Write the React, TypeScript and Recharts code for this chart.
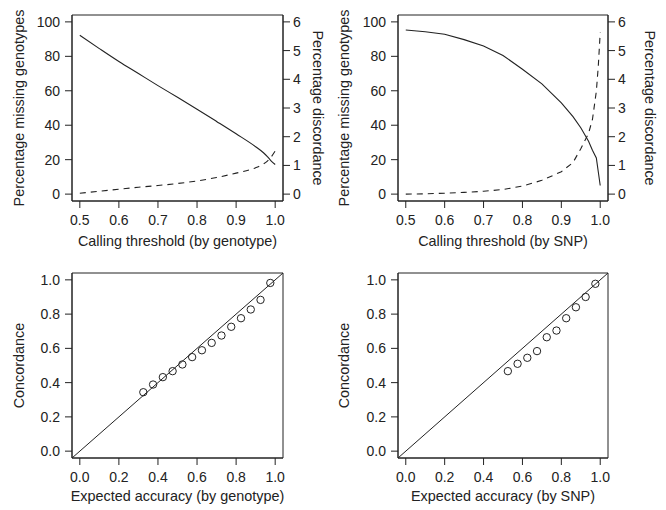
import React from 'react';
import {
  ComposedChart,
  Line,
  Scatter,
  XAxis,
  YAxis,
  ReferenceArea,
  ReferenceLine,
} from 'recharts';

// --- data ---
const genoThreshold = [0.5, 0.55, 0.6, 0.65, 0.7, 0.75, 0.8, 0.85, 0.9, 0.95, 0.97, 0.98, 0.99, 1.0];
const genoMissing = [92.2, 84.5, 77, 70, 63, 56.2, 49.3, 42.2, 35, 27.5, 24, 21.8, 19.2, 17.2];
const genoDiscord = [0.03, 0.1, 0.17, 0.24, 0.3, 0.37, 0.46, 0.58, 0.73, 0.92, 1.05, 1.15, 1.3, 1.5];

const snpThreshold = [0.5, 0.55, 0.6, 0.65, 0.7, 0.75, 0.8, 0.85, 0.9, 0.93, 0.95, 0.97, 0.98, 0.99, 0.995, 1.0];
const snpMissing = [95.3, 94.3, 92.8, 89.7, 86, 80.5, 72.5, 64, 53, 45, 38.5, 30.7, 25.5, 21, 13, 5];
const snpDiscord = [0, 0.01, 0.03, 0.06, 0.1, 0.16, 0.28, 0.48, 0.78, 1.1, 1.58, 2.12, 2.6, 3.58, 4.45, 5.63];

const genoExpected = [0.325, 0.375, 0.425, 0.475, 0.525, 0.575, 0.625, 0.675, 0.725, 0.775, 0.825, 0.875, 0.925, 0.975];
const genoConcord = [0.344, 0.389, 0.432, 0.467, 0.506, 0.549, 0.589, 0.632, 0.675, 0.726, 0.776, 0.827, 0.883, 0.982];

const snpExpected = [0.525, 0.575, 0.625, 0.675, 0.725, 0.775, 0.825, 0.875, 0.925, 0.975];
const snpConcord = [0.467, 0.51, 0.545, 0.584, 0.665, 0.704, 0.776, 0.84, 0.9, 0.977];

const thresholdTicks = [0.5, 0.6, 0.7, 0.8, 0.9, 1.0];
const missingTicks = [0, 20, 40, 60, 80, 100];
const discordTicks = [0, 1, 2, 3, 4, 5, 6];
const unitTicks = [0, 0.2, 0.4, 0.6, 0.8, 1.0];

const thresholdDomain = [0.48, 1.02];
const missingDomain = [-4, 104];
const discordDomain = [-0.24, 6.24];
const unitDomain = [-0.04, 1.04];

const INK = '#222';
const FONT = '"Liberation Sans", Arial, Helvetica, sans-serif';
const TITLE_SIZE = 14.4;

const tickStyle = { fontSize: 14, fill: INK, fontFamily: FONT };

const fmt1 = (v: number) => v.toFixed(1);

// rotated axis title drawn in the axis' own box
const sideTitle = (text: string, dx: number, angle: number) => (props: any) => {
  const vb = props.viewBox || {};
  const cx = vb.x + dx;
  const cy = vb.y + vb.height / 2;
  return (
    <text
      x={cx}
      y={cy}
      transform={`rotate(${angle} ${cx} ${cy})`}
      textAnchor="middle"
      dominantBaseline="central"
      fontSize={TITLE_SIZE}
      fill={INK}
      fontFamily={FONT}
    >
      {text}
    </text>
  );
};

const bottomTitle = (text: string, baseline: number) => (props: any) => {
  const vb = props.viewBox || {};
  return (
    <text
      x={vb.x + vb.width / 2}
      y={vb.y + baseline}
      textAnchor="middle"
      fontSize={TITLE_SIZE}
      fill={INK}
      fontFamily={FONT}
    >
      {text}
    </text>
  );
};

const ring = (props: any) => (
  <circle cx={props.cx} cy={props.cy} r={3.7} fill="none" stroke={INK} strokeWidth={1} />
);

interface ThresholdPanelProps {
  xs: number[];
  missing: number[];
  discord: number[];
  xTitle: string;
  leftW: number;
  rightW: number;
  leftTitleX: number;
  rightTitleX: number;
  curve: 'linear' | 'monotone';
}

function ThresholdPanel({ xs, missing, discord, xTitle, leftW, rightW, leftTitleX, rightTitleX, curve }: ThresholdPanelProps) {
  const rows = xs.map((x, i) => ({ x, missing: missing[i], discord: discord[i] }));
  return (
    <ComposedChart width={333} height={255} data={rows} margin={{ top: 15, right: 0, bottom: 0, left: 0 }}>
      <XAxis
        dataKey="x"
        type="number"
        domain={thresholdDomain}
        allowDataOverflow
        ticks={thresholdTicks}
        tickFormatter={fmt1}
        height={54}
        tick={tickStyle}
        tickSize={7}
        tickMargin={7}
        tickLine={{ stroke: INK }}
        axisLine={{ stroke: INK }}
        label={bottomTitle(xTitle, 45)}
      />
      <YAxis
        yAxisId="left"
        type="number"
        domain={missingDomain}
        allowDataOverflow
        ticks={missingTicks}
        width={leftW}
        tick={tickStyle}
        tickSize={7}
        tickMargin={5}
        tickLine={{ stroke: INK }}
        axisLine={{ stroke: INK }}
        label={sideTitle('Percentage missing genotypes', leftTitleX, -90)}
      />
      <YAxis
        yAxisId="right"
        orientation="right"
        type="number"
        domain={discordDomain}
        allowDataOverflow
        ticks={discordTicks}
        width={rightW}
        tick={tickStyle}
        tickSize={7}
        tickMargin={3}
        tickLine={{ stroke: INK }}
        axisLine={{ stroke: INK }}
        label={sideTitle('Percentage discordance', rightTitleX, 90)}
      />
      <ReferenceArea
        yAxisId="left"
        x1={thresholdDomain[0]}
        x2={thresholdDomain[1]}
        y1={missingDomain[0]}
        y2={missingDomain[1]}
        fill="none"
        stroke={INK}
        strokeWidth={1}
      />
      <Line
        yAxisId="left"
        type={curve}
        dataKey="missing"
        stroke={INK}
        strokeWidth={1.1}
        dot={false}
        isAnimationActive={false}
      />
      <Line
        yAxisId="right"
        type={curve}
        dataKey="discord"
        stroke={INK}
        strokeWidth={1.1}
        strokeDasharray="6 5"
        dot={false}
        isAnimationActive={false}
      />
    </ComposedChart>
  );
}

interface AccuracyPanelProps {
  xs: number[];
  ys: number[];
  xTitle: string;
  leftW: number;
  rightM: number;
  leftTitleX: number;
}

function AccuracyPanel({ xs, ys, xTitle, leftW, rightM, leftTitleX }: AccuracyPanelProps) {
  const pts = xs.map((x, i) => ({ x, y: ys[i] }));
  return (
    <ComposedChart width={333} height={255} margin={{ top: 18, right: rightM, bottom: 0, left: 0 }}>
      <XAxis
        dataKey="x"
        type="number"
        domain={unitDomain}
        allowDataOverflow
        ticks={unitTicks}
        tickFormatter={fmt1}
        height={52}
        tick={tickStyle}
        tickSize={7}
        tickMargin={7}
        tickLine={{ stroke: INK }}
        axisLine={{ stroke: INK }}
        label={bottomTitle(xTitle, 43)}
      />
      <YAxis
        dataKey="y"
        type="number"
        domain={unitDomain}
        allowDataOverflow
        ticks={unitTicks}
        tickFormatter={fmt1}
        width={leftW}
        tick={tickStyle}
        tickSize={7}
        tickMargin={5}
        tickLine={{ stroke: INK }}
        axisLine={{ stroke: INK }}
        label={sideTitle('Concordance', leftTitleX, -90)}
      />
      <ReferenceArea
        x1={unitDomain[0]}
        x2={unitDomain[1]}
        y1={unitDomain[0]}
        y2={unitDomain[1]}
        fill="none"
        stroke={INK}
        strokeWidth={1}
      />
      <ReferenceLine
        segment={[
          { x: unitDomain[0], y: unitDomain[0] },
          { x: unitDomain[1], y: unitDomain[1] },
        ]}
        stroke={INK}
        strokeWidth={1}
      />
      <Scatter data={pts} shape={ring} isAnimationActive={false} />
    </ComposedChart>
  );
}

export default function App() {
  return (
    <div
      style={{
        position: 'absolute',
        left: 0,
        top: 0,
        width: 666,
        height: 510,
        background: '#fff',
        fontFamily: FONT,
      }}
    >
      <div style={{ position: 'absolute', left: 0, top: 0 }}>
        <ThresholdPanel
          xs={genoThreshold}
          missing={genoMissing}
          discord={genoDiscord}
          xTitle="Calling threshold (by genotype)"
          leftW={72}
          rightW={50}
          leftTitleX={19}
          rightTitleX={35}
          curve="monotone"
        />
      </div>
      <div style={{ position: 'absolute', left: 333, top: 0 }}>
        <ThresholdPanel
          xs={snpThreshold}
          missing={snpMissing}
          discord={snpDiscord}
          xTitle="Calling threshold (by SNP)"
          leftW={65}
          rightW={58}
          leftTitleX={11}
          rightTitleX={42}
          curve="linear"
        />
      </div>
      <div style={{ position: 'absolute', left: 0, top: 255 }}>
        <AccuracyPanel
          xs={genoExpected}
          ys={genoConcord}
          xTitle="Expected accuracy (by genotype)"
          leftW={72}
          rightM={50}
          leftTitleX={19}
        />
      </div>
      <div style={{ position: 'absolute', left: 333, top: 255 }}>
        <AccuracyPanel
          xs={snpExpected}
          ys={snpConcord}
          xTitle="Expected accuracy (by SNP)"
          leftW={65}
          rightM={58}
          leftTitleX={10.5}
        />
      </div>
    </div>
  );
}
